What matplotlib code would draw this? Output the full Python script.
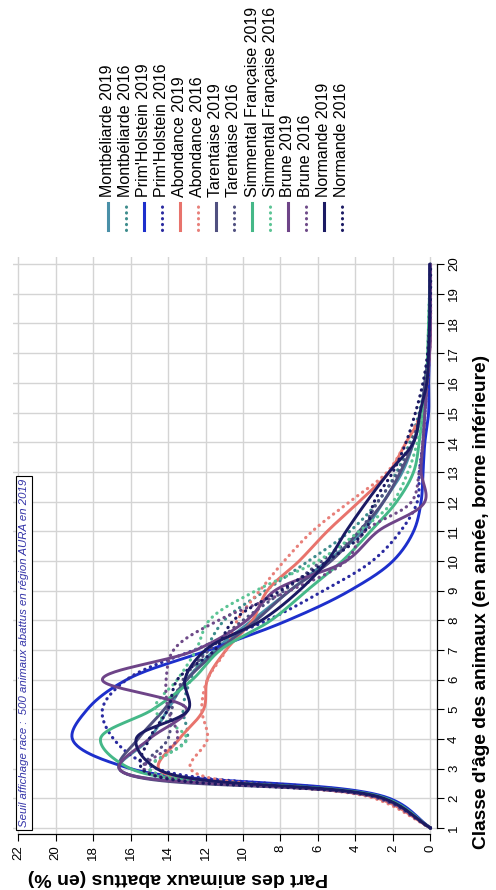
import numpy as np
import matplotlib
matplotlib.use("Agg")
import matplotlib.pyplot as plt
from matplotlib.lines import Line2D

plt.rcParams['font.family'] = ['Liberation Sans', 'DejaVu Sans']

# ---------------------------------------------------------------------
# data : part des animaux abattus (%) par classe d'age (1..20 ans)
ages = list(range(1, 21))

mont_19 = [0, 2.6, 16.6, 15.0, 14.0, 13.0, 11.5, 9.5, 7.5, 5.5, 3.6, 2.5, 1.5, 0.9, 0.5, 0.3, 0.1, 0.05, 0, 0]
mont_16 = [0, 2.7, 15.0, 13.0, 13.2, 12.8, 12.0, 11.0, 8.8, 6.5, 4.3, 2.8, 1.8, 1.1, 0.6, 0.3, 0.15, 0.1, 0.05, 0]
prim_19 = [0, 2.2, 16.0, 19.1, 18.3, 16.2, 11.8, 7.6, 4.3, 2.0, 0.9, 0.5, 0.4, 0.3, 0.1, 0.1, 0.05, 0, 0, 0]
prim_16 = [0, 2.4, 14.6, 16.9, 17.5, 16.2, 12.6, 8.7, 5.7, 3.1, 1.6, 0.7, 0.6, 0.4, 0.3, 0.2, 0.1, 0.05, 0, 0]
abon_19 = [0, 2.8, 14.5, 13.4, 12.1, 11.9, 10.9, 9.5, 8.7, 7.0, 5.5, 3.8, 2.2, 1.3, 0.4, 0.2, 0.05, 0, 0, 0]
abon_16 = [0, 3.0, 12.8, 11.9, 12.2, 11.9, 10.9, 10.3, 9.1, 7.8, 6.3, 4.3, 2.3, 1.3, 0.5, 0.2, 0.1, 0, 0, 0]
tare_19 = [0, 2.6, 16.6, 15.6, 14.2, 13.0, 11.3, 9.3, 7.5, 5.3, 3.8, 2.5, 1.6, 0.9, 0.5, 0.3, 0.1, 0.05, 0, 0]
tare_16 = [0, 2.7, 15.3, 14.0, 13.8, 13.2, 11.8, 10.0, 7.8, 5.8, 3.8, 2.8, 1.7, 1.0, 0.5, 0.2, 0.1, 0.05, 0, 0]
simm_19 = [0, 2.4, 16.0, 17.6, 14.8, 12.7, 11.2, 8.5, 6.6, 4.7, 3.2, 1.8, 0.9, 0.6, 0.4, 0.2, 0.15, 0.1, 0.05, 0]
simm_16 = [0, 2.6, 15.0, 13.0, 14.7, 13.5, 12.5, 11.8, 9.3, 6.0, 3.8, 2.0, 1.2, 0.7, 0.4, 0.2, 0.1, 0.05, 0, 0]
brun_19 = [0, 2.6, 16.6, 15.0, 13.0, 17.5, 12.5, 9.8, 8.3, 4.5, 2.8, 0.3, 0.5, 0.4, 0.3, 0.2, 0.05, 0, 0, 0]
brun_16 = [0, 2.8, 15.3, 13.5, 14.0, 14.1, 13.7, 11.3, 7.5, 4.5, 3.5, 1.0, 0.6, 0.4, 0.3, 0.15, 0.05, 0, 0, 0]
norm_19 = [0, 2.5, 14.6, 15.7, 12.9, 13.1, 12.0, 9.0, 7.0, 5.5, 4.5, 3.4, 2.2, 0.9, 0.56, 0.2, 0.1, 0.05, 0.05, 0.05]
norm_16 = [0, 2.6, 15.4, 15.0, 14.0, 13.5, 11.5, 10.5, 8.0, 5.5, 3.5, 3.0, 2.0, 1.3, 0.8, 0.4, 0.15, 0.05, 0, 0]

labels = ["Montbéliarde 2019", "Montbéliarde 2016", "Prim'Holstein 2019", "Prim'Holstein 2016",
          "Abondance 2019", "Abondance 2016", "Tarentaise 2019", "Tarentaise 2016",
          "Simmental Française 2019", "Simmental Française 2016", "Brune 2019", "Brune 2016",
          "Normande 2019", "Normande 2016"]
series = [mont_19, mont_16, prim_19, prim_16, abon_19, abon_16, tare_19, tare_16,
          simm_19, simm_16, brun_19, brun_16, norm_19, norm_16]
colors = ['#4a90a8', '#3d8c8c', '#1d2fcc', '#2a2aa0', '#e8736c', '#e8807a', '#505080', '#505080',
          '#45b888', '#5cc495', '#6e4488', '#6e4a88', '#1b1a63', '#1b1a63']

pct_ticks = list(range(0, 23, 2))
note = "Seuil affichage race :  500 animaux abattus en région AURA en 2019"

DOT = (0, (0.1, 1.8))
SX, SY = 29.68, 18.75   # px per year, px per percent (used only to shape the curve)


def smooth(xs, ys, n=30):
    # centripetal catmull-rom through the read points (display path only)
    p = np.column_stack([np.asarray(xs, float) * SX, np.asarray(ys, float) * SY])
    p = np.vstack([2 * p[0] - p[1], p, 2 * p[-1] - p[-2]])
    out = []
    for i in range(1, len(p) - 2):
        p0, p1, p2, p3 = p[i - 1], p[i], p[i + 1], p[i + 2]
        t0 = 0.0
        t1 = t0 + max(np.linalg.norm(p1 - p0), 1e-6) ** 0.5
        t2 = t1 + max(np.linalg.norm(p2 - p1), 1e-6) ** 0.5
        t3 = t2 + max(np.linalg.norm(p3 - p2), 1e-6) ** 0.5
        t = np.linspace(t1, t2, n, endpoint=False)[:, None]
        a1 = (t1 - t) / (t1 - t0) * p0 + (t - t0) / (t1 - t0) * p1
        a2 = (t2 - t) / (t2 - t1) * p1 + (t - t1) / (t2 - t1) * p2
        a3 = (t3 - t) / (t3 - t2) * p2 + (t - t2) / (t3 - t2) * p3
        b1 = (t2 - t) / (t2 - t0) * a1 + (t - t0) / (t2 - t0) * a2
        b2 = (t3 - t) / (t3 - t1) * a2 + (t - t1) / (t3 - t1) * a3
        out.append((t2 - t) / (t2 - t1) * b1 + (t - t1) / (t2 - t1) * b2)
    out.append(p[-2][None, :])
    out = np.vstack(out)
    return out[:, 0] / SX, out[:, 1] / SY


# ---------------------------------------------------------------------
W, H = 496, 890
fig = plt.figure(figsize=(W / 100, H / 100), dpi=100)

ax = fig.add_axes([13 / W, (H - 834) / H, (437 - 13) / W, (834 - 257) / H])
ax.set_xlim(22.267, -0.347)
ax.set_ylim(0.798, 20.24)

ax.grid(True, color='#d4d4d4', lw=1.0)
ax.set_axisbelow(True)
ax.set_xticks(pct_ticks)
ax.set_yticks(ages)

for name in ['top', 'left']:
    ax.spines[name].set_visible(False)
ax.spines['right'].set_bounds(1, 20)
ax.spines['bottom'].set_bounds(0, 22)
ax.spines['right'].set_linewidth(0.9)
ax.spines['bottom'].set_linewidth(0.9)

ax.yaxis.tick_right()
ax.tick_params(axis='y', which='both', left=False, right=True, direction='out',
               length=5, pad=3, labelsize=9.5, labelrotation=90)
ax.tick_params(axis='x', direction='out', length=5, pad=3, labelsize=9.5, labelrotation=90)
for lab in ax.get_yticklabels():
    lab.set_va('center')

for vals, col, lab in zip(series, colors, labels):
    sx, sy = smooth(ages, vals)
    if lab.endswith('2019'):
        ax.plot(sy, sx, color=col, lw=2.1, solid_capstyle='round', solid_joinstyle='round')
    else:
        ax.plot(sy, sx, color=col, lw=2.3, linestyle=DOT, dash_capstyle='round')

ax.text(21.95, 1.02, note, rotation=90, ha='left', va='bottom', color='#3434a8',
        style='italic', fontsize=8.2,
        bbox=dict(boxstyle='square,pad=0.25', fc='white', ec='black', lw=0.8))

# axis titles
fig.text(482 / W, 1 - 602 / H, "Classe d'âge des animaux (en année, borne inférieure)",
         rotation=90, ha='center', va='center', fontsize=13.8, fontweight='bold')
fig.text(178 / W, 1 - 877 / H, "Part des animaux abattus (en %)",
         rotation=180, ha='center', va='center', fontsize=14, fontweight='bold')

# legend, drawn rotated like the rest of the chart
for i, (col, lab) in enumerate(zip(colors, labels)):
    xp = (108 + 18 * i) / W
    ls = '-' if lab.endswith('2019') else DOT
    fig.add_artist(Line2D([xp, xp], [1 - 230 / H, 1 - 203 / H], color=col, lw=2.2,
                          linestyle=ls, dash_capstyle='round', transform=fig.transFigure))
    fig.text(xp, 1 - 197 / H, lab, rotation=90, ha='center', va='bottom', fontsize=11.5)

fig.savefig('out.png', dpi=100)
